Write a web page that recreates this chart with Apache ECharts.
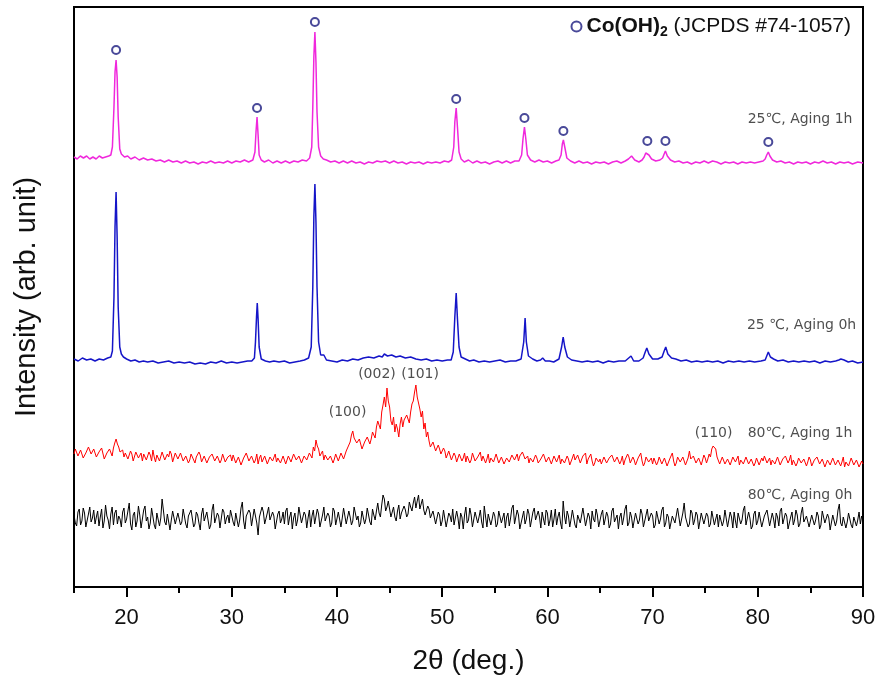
<!DOCTYPE html>
<html><head><meta charset="utf-8">
<script src="https://cdn.jsdelivr.net/npm/echarts@6/dist/echarts.min.js"></script>
<style>html,body{margin:0;padding:0;background:#fff}#c{width:886px;height:686px}</style>
</head><body><div id="c"></div>
<script>
// ---- axis ticks ----
const majorTicks = [20, 30, 40, 50, 60, 70, 80, 90];
const minorTicks = [15, 25, 35, 45, 55, 65, 75, 85];

// ---- 25 C, aging 1h (offset intensity), [2theta, I] ----
const pink25_1h = [[15,430],[15.3,428],[15.6,431],[15.9,429],[16.2,431],[16.5,428],[16.8,430],[17.1,428],[17.4,431],[17.7,429],[18.0,430],[18.3,431],[18.5,432],[18.65,440],[18.8,480],[18.9,515],[19.0,527],[19.1,510],[19.2,470],[19.35,438],[19.5,433],[19.8,430],[20.1,431],[20.4,428],[20.8,430],[21.2,427],[21.6,429],[22,427],[22.4,428],[22.8,426],[23.2,427],[23.6,425],[24,427],[24.4,425],[24.8,426],[25.2,424],[25.6,426],[26,424],[26.4,425],[26.8,423],[27.2,425],[27.6,424],[28,426],[28.4,424],[28.8,425],[29.2,424],[29.6,426],[30,424],[30.4,426],[30.8,425],[31.2,427],[31.6,425],[32,427],[32.2,435],[32.3,455],[32.4,470],[32.5,452],[32.6,432],[32.8,427],[33.1,425],[33.5,427],[33.9,424],[34.3,426],[34.7,424],[35.1,426],[35.5,424],[35.9,426],[36.3,425],[36.7,427],[37.1,426],[37.4,429],[37.6,440],[37.7,480],[37.8,530],[37.9,555],[38.0,525],[38.1,475],[38.25,440],[38.45,431],[38.7,428],[39,427],[39.4,425],[39.8,426],[40.2,424],[40.6,426],[41,424],[41.4,426],[41.8,424],[42.2,425],[42.6,423],[43,425],[43.4,424],[43.8,426],[44.2,425],[44.6,426],[45,424],[45.4,426],[45.8,424],[46.2,425],[46.6,423],[47,425],[47.4,424],[47.8,425],[48.2,423],[48.6,425],[49,424],[49.4,425],[49.8,424],[50.2,426],[50.6,425],[50.9,427],[51.1,440],[51.2,465],[51.33,479],[51.45,460],[51.6,435],[51.8,428],[52.1,425],[52.5,427],[52.9,424],[53.3,426],[53.7,424],[54.1,425],[54.5,423],[54.9,425],[55.3,426],[55.7,424],[56.1,426],[56.5,424],[56.9,426],[57.3,426],[57.55,432],[57.68,448],[57.82,460],[57.95,448],[58.1,432],[58.4,427],[58.8,425],[59.2,427],[59.6,425],[60,426],[60.4,424],[60.8,426],[61.1,427],[61.3,432],[61.42,443],[61.52,447],[61.65,440],[61.85,429],[62.2,426],[62.6,424],[63,426],[63.4,424],[63.8,425],[64.2,423],[64.6,425],[65,424],[65.4,425],[65.8,423],[66.2,425],[66.6,426],[67,424],[67.4,426],[67.7,428],[68,431],[68.3,427],[68.7,425],[69.0,427],[69.2,430],[69.35,434],[69.5,436],[69.65,432],[69.9,428],[70.3,426],[70.7,427],[70.95,429],[71.1,433],[71.22,436],[71.4,431],[71.7,427],[72.1,425],[72.5,426],[72.9,424],[73.3,425],[73.7,423],[74.1,425],[74.5,424],[74.9,426],[75.3,424],[75.7,426],[76.1,425],[76.5,423],[76.9,425],[77.3,424],[77.7,425],[78.1,423],[78.5,425],[78.9,424],[79.3,425],[79.7,424],[80.1,425],[80.5,426],[80.7,428],[80.85,432],[81.0,435],[81.15,431],[81.4,427],[81.8,425],[82.2,426],[82.6,424],[83,425],[83.4,423],[83.8,425],[84.2,424],[84.6,425],[85,423],[85.4,425],[85.8,424],[86.2,426],[86.6,424],[87,425],[87.4,423],[87.8,425],[88.2,424],[88.6,425],[89,423],[89.5,425],[90,424]];

// ---- 25 C, aging 0h ----
const blue25_0h = [[15,228],[15.4,226],[15.8,229],[16.2,227],[16.6,228],[17,226],[17.4,228],[17.8,227],[18.2,229],[18.5,230],[18.65,236],[18.8,290],[18.9,360],[19.0,395],[19.1,350],[19.2,280],[19.35,240],[19.5,233],[19.7,230],[20,228],[20.4,226],[20.8,227],[21.2,225],[21.6,226],[22,225],[22.5,226],[23,224],[23.5,225],[24,226],[24.5,224],[25,225],[25.5,224],[26,225],[26.5,223],[27,224],[27.5,223],[28,225],[28.5,224],[29,226],[29.5,224],[30,225],[30.5,224],[31,225],[31.5,226],[31.9,226],[32.15,229],[32.25,245],[32.35,270],[32.42,284],[32.5,268],[32.6,240],[32.8,228],[33.2,226],[33.6,225],[34,226],[34.5,225],[35,226],[35.5,224],[36,225],[36.5,226],[36.9,227],[37.3,229],[37.55,240],[37.7,300],[37.8,370],[37.9,403],[38.0,365],[38.1,300],[38.25,245],[38.45,232],[38.6,230],[38.75,232],[39,227],[39.5,226],[40,225],[40.5,227],[41,226],[41.5,228],[42,227],[42.5,229],[43,230],[43.5,229],[44,231],[44.3,230],[44.5,233],[44.8,231],[45.2,232],[45.6,230],[46,231],[46.5,229],[47,230],[47.5,228],[48,227],[48.5,228],[49,226],[49.5,227],[50,226],[50.5,227],[50.85,227],[51.05,235],[51.2,270],[51.33,294],[51.45,268],[51.6,240],[51.8,230],[52.2,228],[52.6,226],[53,227],[53.5,225],[54,226],[54.5,225],[55,226],[55.5,227],[56,225],[56.5,226],[57,226],[57.5,228],[57.75,245],[57.88,269],[58.0,245],[58.2,231],[58.6,228],[59,226],[59.35,227],[59.55,229],[59.8,226],[60.2,226],[60.6,225],[61.1,228],[61.35,240],[61.5,250],[61.65,240],[61.9,230],[62.3,227],[62.8,226],[63.3,225],[63.8,226],[64.3,225],[64.8,226],[65.3,224],[65.8,226],[66.3,225],[66.8,226],[67.4,226],[67.95,231],[68.2,226],[68.7,226],[69.1,229],[69.3,235],[69.45,239],[69.65,233],[70,228],[70.5,228],[70.9,230],[71.1,236],[71.25,240],[71.45,233],[71.8,229],[72.2,228],[72.7,226],[73.2,227],[73.7,225],[74.2,226],[74.7,225],[75.2,226],[75.7,225],[76.2,226],[76.7,224],[77.2,226],[77.7,225],[78.2,226],[78.7,225],[79.2,226],[79.7,225],[80.3,226],[80.7,227],[80.85,231],[81.0,235],[81.2,230],[81.5,228],[81.9,226],[82.4,227],[82.9,225],[83.4,226],[83.9,225],[84.4,226],[84.9,225],[85.4,226],[85.9,224],[86.4,226],[86.9,225],[87.4,226],[87.7,227],[87.9,228],[88.2,227],[88.6,225],[89,226],[89.5,224],[90,225]];

// ---- noisy scans sampled from 15 deg every 0.125 deg ----
const scanStart = 15, scanStep = 0.125;
const red80_1h = [
133,138,139,131,130,137,136,129,128,134,135,140,141,133,131,138,137,130,129,135,134,139,138,128,127,134,133,138,136,131,139,144,148,143,140,135,133,137,130,134,
135,128,129,136,133,126,127,135,136,129,130,134,126,133,134,127,128,135,132,126,137,130,125,132,131,126,128,135,134,127,126,133,130,136,133,125,127,134,131,128,
128,134,133,126,125,131,130,124,127,133,134,127,124,130,129,135,132,125,126,131,130,124,123,130,128,133,133,126,125,131,129,124,127,133,131,125,124,130,128,132,
126,132,131,124,124,130,129,122,122,129,128,134,133,126,125,131,130,124,127,133,123,129,132,125,126,131,129,123,124,130,131,126,127,133,125,129,130,124,126,131,
129,123,124,131,131,125,127,133,133,127,126,131,130,124,125,131,132,127,128,134,134,129,140,136,147,141,138,131,131,136,127,132,133,127,126,131,130,124,128,133,
131,126,127,134,134,128,129,136,137,142,145,152,156,149,150,144,142,148,146,138,139,145,144,150,150,143,148,155,155,149,160,166,166,158,175,182,190,180,199,186,
180,166,162,170,155,163,158,150,163,170,160,167,166,172,170,164,175,183,186,195,202,190,188,178,170,176,158,164,150,155,146,140,140,145,143,136,136,142,138,133,
133,139,136,129,130,136,134,127,128,134,131,125,126,133,132,126,129,134,125,131,130,124,127,134,133,126,124,130,129,135,126,131,131,124,128,133,124,129,130,125,
127,133,131,124,125,130,129,123,123,129,130,125,126,132,132,127,128,133,126,131,129,135,134,128,127,131,124,129,130,125,126,132,129,124,123,128,128,133,131,125,
125,130,129,123,124,131,131,125,127,132,123,128,130,124,126,131,128,122,124,129,133,127,127,132,130,124,125,131,129,134,123,128,128,133,126,121,124,129,131,125,
128,123,125,130,130,124,123,129,127,132,131,125,124,130,129,123,126,131,122,127,128,133,130,124,125,130,127,122,123,129,129,134,126,121,124,130,131,125,124,129,
123,129,128,122,125,130,130,123,124,129,127,121,122,128,129,134,126,121,124,130,131,125,125,130,128,122,123,129,136,128,126,131,130,124,124,129,128,122,127,132,
129,124,128,133,130,138,141,143,138,130,128,123,125,130,129,123,123,128,127,122,124,130,130,125,126,131,122,127,128,123,125,130,129,123,123,128,127,121,124,129,
128,122,123,129,126,131,130,124,124,129,122,127,129,123,125,130,128,122,123,128,126,131,130,124,127,132,122,127,126,121,124,129,130,124,124,128,127,121,125,130,
127,121,122,127,125,130,129,123,123,128,126,120,121,127,128,122,124,129,128,122,122,127,127,121,125,130,120,125,126,121,123,129,128,122,122,127,125,120,121,126,
123];
const black80_0h = [
72,64,61,75,78,62,66,79,74,60,58,73,80,65,69,77,63,70,76,61,70,78,59,66,82,71,67,58,73,80,62,74,77,63,71,68,60,75,79,64,
68,76,84,63,57,72,75,60,66,81,72,59,60,77,81,66,70,58,64,79,77,62,58,74,73,61,69,88,86,65,62,73,71,57,67,76,78,63,61,74,
74,62,65,78,80,63,59,71,70,77,76,60,63,75,72,64,57,73,79,66,68,75,73,58,62,77,83,64,66,74,71,59,60,78,75,63,69,72,64,77,
78,65,61,74,72,60,67,79,85,66,58,71,70,77,74,61,63,78,77,64,52,70,69,80,75,63,62,74,80,67,66,75,71,58,59,73,76,64,68,75,
63,76,79,62,70,75,58,69,74,61,67,80,81,64,62,75,72,59,69,77,60,71,77,63,65,78,73,60,58,72,80,66,68,74,71,60,64,79,76,62,
61,75,73,60,69,79,78,63,63,76,70,62,66,80,82,67,71,60,64,76,75,63,68,79,77,65,62,78,72,67,76,84,74,70,82,92,88,76,80,86,
78,70,72,80,70,66,76,82,68,74,74,81,77,70,73,85,80,76,84,90,79,86,92,78,83,88,77,72,74,81,78,69,67,76,74,63,64,75,72,61,
66,77,75,60,61,74,71,65,78,62,63,76,69,58,74,70,58,72,80,64,67,79,72,60,62,75,76,64,70,77,65,59,81,70,60,73,73,62,68,75,
71,60,63,76,77,64,66,74,59,70,74,61,69,79,82,63,64,77,72,58,57,70,76,63,68,78,73,60,61,75,79,67,66,76,70,59,75,68,62,77,
74,61,67,77,60,68,78,62,70,75,64,58,86,71,63,76,71,60,68,77,75,62,59,72,73,64,66,79,80,61,62,74,70,58,76,68,65,78,72,60,
60,73,77,62,68,75,71,59,63,76,79,65,66,72,58,70,74,62,69,78,82,61,64,75,70,59,61,74,76,63,67,78,73,60,59,72,78,66,65,74,
71,59,62,76,75,63,68,77,80,60,64,73,70,58,57,71,73,64,66,79,77,61,61,74,84,70,69,60,63,77,74,62,67,75,72,58,58,74,76,63,
65,74,71,60,63,76,78,62,68,73,60,72,74,61,66,77,79,60,62,75,70,59,75,66,59,74,72,63,67,77,81,62,64,75,69,58,61,73,76,62,
66,75,73,60,58,71,70,77,77,61,62,74,68,59,74,70,61,76,79,63,65,74,71,58,56,70,75,62,67,77,72,60,63,74,80,65,66,71,69,60,
60,72,74,62,67,75,71,58,62,76,78,64,64,73,69,57,57,72,73,61,66,77,83,64,61,70,70,59,65,74,74,62,59,70,72,61,67,75,63,71,
68];

// ---- Co(OH)2 reference peak markers ----
const refPeaksX = [19.0, 32.4, 37.9, 51.33, 57.82, 61.52, 69.5, 71.22, 81.0];
const refPeaksY = [537, 479, 565, 488, 469, 456, 446, 446, 445];

// ---- text annotations [2theta, I, text] ----
const sampleLabels = [[89.0, 468, '25℃, Aging 1h'], [89.35, 262, '25 ℃, Aging 0h'], [89.0, 154, '80℃, Aging 1h'], [89.0, 92, '80℃, Aging 0h']];
const hklLabels = [[41.0, 175, '(100)'], [43.8, 213, '(002)'], [47.9, 213, '(101)'], [75.8, 154, '(110)']];

const toScan = arr => arr.map((v, i) => [scanStart + i * scanStep, v]);

const chart = echarts.init(document.getElementById('c'), null, {renderer: 'canvas'});
const labelFont = {fontFamily: 'DejaVu Sans', fontSize: 14, color: '#222'};
chart.setOption({
  animation: false,
  backgroundColor: '#fff',
  grid: {left: 74, right: 23, top: 7, bottom: 99, show: true, borderColor: '#000', borderWidth: 2},
  legend: {
    data: ['ref'], right: 30, top: 11, itemWidth: 10, itemHeight: 10, itemGap: 6,
    formatter: () => '{b|Co(OH)}{s|2}{n| (JCPDS #74-1057)}',
    textStyle: {
      rich: {
        b: {fontFamily: 'Liberation Sans', fontSize: 21, fontWeight: 'bold', color: '#111'},
        s: {fontFamily: 'Liberation Sans', fontSize: 14, fontWeight: 'bold', color: '#111', padding: [12, 0, 0, 0]},
        n: {fontFamily: 'Liberation Sans', fontSize: 21, color: '#111'}
      }
    }
  },
  xAxis: [{
    type: 'value', min: 15, max: 90, position: 'bottom',
    name: '2θ (deg.)', nameLocation: 'middle', nameGap: 60,
    nameTextStyle: {fontFamily: 'Liberation Sans', fontSize: 28, color: '#111'},
    axisLine: {show: true, lineStyle: {color: '#000', width: 2}},
    axisTick: {show: true, customValues: majorTicks, length: 10, lineStyle: {color: '#000', width: 2}},
    axisLabel: {customValues: majorTicks, margin: 20, fontFamily: 'Liberation Sans', fontSize: 22, color: '#111'},
    splitLine: {show: false}
  }, {
    type: 'value', min: 15, max: 90, position: 'bottom', gridIndex: 0,
    axisLine: {show: false},
    axisTick: {show: true, customValues: minorTicks, length: 6, lineStyle: {color: '#000', width: 2}},
    axisLabel: {show: false},
    splitLine: {show: false}
  }],
  yAxis: {
    type: 'value', min: 0, max: 580,
    name: 'Intensity (arb. unit)', nameLocation: 'middle', nameGap: 33,
    nameTextStyle: {fontFamily: 'Liberation Sans', fontSize: 29, color: '#111'},
    axisLine: {show: true, lineStyle: {color: '#000', width: 2}},
    axisTick: {show: false}, axisLabel: {show: false}, splitLine: {show: false}
  },
  series: [
    {type: 'line', data: toScan(black80_0h), symbol: 'none', lineStyle: {color: '#000', width: 1}, z: 2},
    {type: 'line', data: toScan(red80_1h), symbol: 'none', lineStyle: {color: '#ff0000', width: 1}, z: 2},
    {type: 'line', data: blue25_0h, symbol: 'none', lineStyle: {color: '#1515c8', width: 1.5}, z: 2},
    {type: 'line', data: pink25_1h, symbol: 'none', lineStyle: {color: '#f028dc', width: 1.5}, z: 2},
    {name: 'ref', type: 'scatter', data: refPeaksX.map((x, i) => [x, refPeaksY[i]]), symbol: 'emptyCircle', symbolSize: 8,
      itemStyle: {color: '#1c1c80', borderColor: '#1c1c80', borderWidth: 2}, z: 4},
    {type: 'scatter', symbolSize: 0, silent: true, z: 5,
      data: sampleLabels.map(l => ({value: [l[0], l[1]], label: {show: true, formatter: l[2], position: 'left', distance: 0, ...labelFont}}))},
    {type: 'scatter', symbolSize: 0, silent: true, z: 5,
      data: hklLabels.map(l => ({value: [l[0], l[1]], label: {show: true, formatter: l[2], position: 'inside', ...labelFont}}))}
  ]
});
</script>
</body></html>
